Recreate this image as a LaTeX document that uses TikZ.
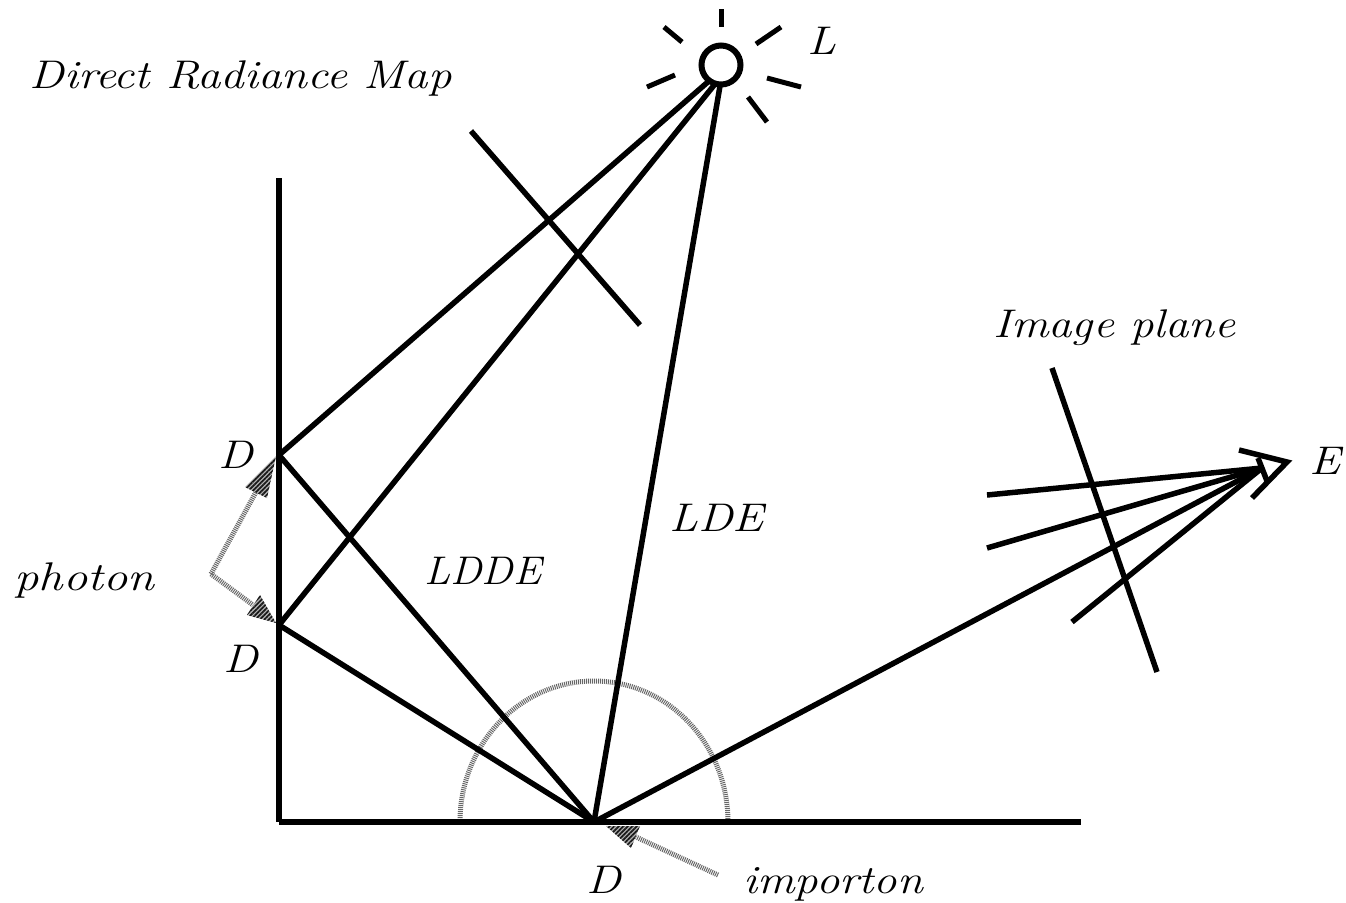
\documentclass[tikz,border=0pt]{standalone}
\usetikzlibrary{patterns.meta}
\begin{document}
\begin{tikzpicture}[x=0.5pt,y=-0.5pt,
  ink/.style={line width=2.75pt,line cap=butt,black},
  thin ink/.style={line width=2.5pt,black},
  hatchline/.style={line width=2.5pt,draw=black!60,dash pattern=on 0.5pt off 0.5pt},
  hatchhead/.style={preaction={fill=black!30},pattern={Lines[angle=45,distance=1.6pt,line width=0.85pt]},pattern color=black!90},
  lab/.style={font=\fontsize{20}{24}\selectfont\itshape,inner sep=0pt,text=black,anchor=base west,transform shape,xscale=1.17}]
\useasboundingbox (0,0) rectangle (1346,902);
% key points
\coordinate (LL) at (721,65);
\coordinate (D1) at (279,455);
\coordinate (D2) at (279,625);
\coordinate (D3) at (594,822);
\coordinate (EE) at (1262,468);
\coordinate (wallTop) at (279,178);
\coordinate (corner) at (279,822);
\coordinate (floorEnd) at (1081,822);
\coordinate (hit1) at (709,81);
\coordinate (hit2) at (715,84);
\coordinate (hit3) at (720,86);
% light
\node[circle,draw,line width=3pt,minimum size=19.5pt,inner sep=0pt] (light) at (LL) {};
\coordinate (r1a) at (721,9);   \coordinate (r1b) at (721,27);
\coordinate (r2a) at (664,27);  \coordinate (r2b) at (682,42);
\coordinate (r3a) at (756,44);  \coordinate (r3b) at (781,27);
\coordinate (r4a) at (647,87);  \coordinate (r4b) at (675,75);
\coordinate (r5a) at (767,78);  \coordinate (r5b) at (801,87);
\coordinate (r6a) at (748,97);  \coordinate (r6b) at (767,122);
\foreach \r in {1,...,6} \draw[thin ink] (r\r a) -- (r\r b);
% hemisphere
\draw[hatchline] (460,822) arc[start angle=180,end angle=360,x radius=134,y radius=141];
% walls
\draw[ink] (wallTop) -- (corner);
\draw[ink] (corner) -- (floorEnd);
% light paths
\draw[ink] (D1) -- (hit1);
\draw[ink] (D2) -- (hit2);
\draw[ink] (D3) -- (hit3);
\draw[ink] (D1) -- (D3);
\draw[ink] (D2) -- (D3);
\draw[ink] (D3) -- (EE);
% radiance map
\coordinate (m1) at (471,131); \coordinate (m2) at (640,325);
\draw[ink] (m1) -- (m2);
% image plane
\coordinate (ip1) at (1052,368); \coordinate (ip2) at (1157,672);
\draw[ink] (ip1) -- (ip2);
\coordinate (e1) at (987,495); \coordinate (e2) at (987,548); \coordinate (e3) at (1072,622);
\draw[ink] (e1) -- (EE);
\draw[ink] (e2) -- (EE);
\draw[ink] (e3) -- (EE);
% eye
\coordinate (g1) at (1239,450); \coordinate (g2) at (1287,462); \coordinate (g3) at (1252,498);
\coordinate (g4) at (1258,458); \coordinate (g5) at (1267,481);
\draw[ink,line join=miter] (g1) -- (g2) -- (g3);
\draw[ink] (g4) -- (g5);
% photon arrows
\coordinate (ph) at (211,574);
\coordinate (t1) at (276,456); \coordinate (c1a) at (245,487); \coordinate (c1b) at (267,498);
\coordinate (t2) at (276,623); \coordinate (c2a) at (260,595); \coordinate (c2b) at (247,615);
\draw[hatchline] (ph) -- (256,492);
\draw[hatchline] (ph) -- (253,605);
\fill[hatchhead] (t1) -- (c1a) -- (c1b) -- cycle;
\fill[hatchhead] (t2) -- (c2a) -- (c2b) -- cycle;
% importon arrow
\coordinate (it) at (606,826); \coordinate (ia) at (640,826); \coordinate (ib) at (631,848); \coordinate (itail) at (718,875);
\draw[hatchline] (itail) -- (636,837);
\fill[hatchhead] (it) -- (ia) -- (ib) -- cycle;
% labels
\node[lab] (tmap) at (29,88) {Direct Radiance Map};
\node[lab] (tL) at (807,54) {L};
\node[lab] (tip) at (993,337) {Image plane};
\node[lab] (tE) at (1309,474) {E};
\node[lab] (tLDE) at (669,531) {LDE};
\node[lab,xscale=0.91] (tLDDE) at (424,584) {LDDE};
\node[lab] (tD1) at (218,468) {D};
\node[lab] (tD2) at (223,672) {D};
\node[lab,xscale=1.04] (tph) at (14,590) {photon};
\node[lab] (tD3) at (586,893) {D};
\node[lab] (timp) at (743,893) {importon};
\end{tikzpicture}
\end{document}
